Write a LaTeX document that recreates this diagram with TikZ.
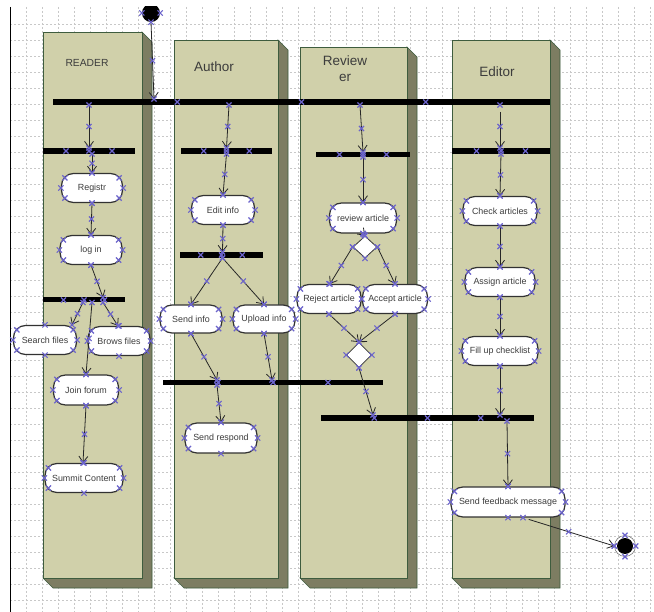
\documentclass[tikz,border=0pt]{standalone}
\usepackage{fontspec}
\setmainfont{Liberation Sans}
\usetikzlibrary{arrows.meta,shapes.misc,shapes.geometric,calc}
\definecolor{lanefront}{RGB}{208,208,170}
\definecolor{laneside}{RGB}{125,125,98}
\definecolor{laneedge}{RGB}{62,92,62}
\definecolor{gridc}{RGB}{200,200,200}
\definecolor{xmark}{RGB}{108,100,204}
\definecolor{actedge}{RGB}{50,50,50}
\definecolor{txt}{RGB}{60,60,60}
\tikzset{
 act/.style={draw=actedge, fill=white, rounded corners=12pt, line width=1.2pt, minimum height=29pt, inner sep=1pt, font=\fontsize{8.9}{10}\selectfont, text=txt},
 fbar/.style={fill=black, draw=none, minimum height=6pt, inner sep=0pt, outer sep=0pt},
 dec/.style={diamond, draw=actedge, fill=white, line width=0.8pt, inner sep=0pt, minimum width=24pt, minimum height=24pt},
 conn/.style={draw=black!85, line width=0.8pt, -{Straight Barb[length=6pt,width=9pt]}},
 xmk/.pic={\draw[xmark, line width=1.1pt] (-2.6pt,-2.6pt) -- (2.6pt,2.6pt) (-2.6pt,2.6pt) -- (2.6pt,-2.6pt);},
 lanetitle/.style={font=\fontsize{13.5}{16}\selectfont, text=txt},
 gridline/.style={gridc, dash pattern=on 2pt off 2pt, line width=0.5pt},
}
\newcommand{\drawlane}[3]{%
 \filldraw[fill=laneside, draw=laneedge, line width=0.6pt] (#2,#3) -- (#2+10,#3+10) -- (#2+10,588) -- (#1+10,588) -- (#1,578) -- (#2,578) -- cycle;
 \filldraw[fill=lanefront, draw=laneedge, line width=0.8pt] (#1,#3) rectangle (#2,578);
}
\newcommand{\actmarks}[1]{%
 \foreach \a in {north,south,east,west} {\pic at (#1.\a) {xmk};}
 \pic at ([xshift=-4pt,yshift=-5pt]#1.north east) {xmk};
 \pic at ([xshift=4pt,yshift=-5pt]#1.north west) {xmk};
 \pic at ([xshift=-4pt,yshift=5pt]#1.south east) {xmk};
 \pic at ([xshift=4pt,yshift=5pt]#1.south west) {xmk};
}
\newcommand{\barmarks}[1]{%
 \pic at (#1.center) {xmk};
 \pic at ($(#1.west)!0.25!(#1.east)$) {xmk};
 \pic at ($(#1.west)!0.75!(#1.east)$) {xmk};
}
\newcommand{\cnx}[3][]{%
 \draw[conn,#1] (#2) -- (#3);
 \pic at (#2) {xmk};
 \pic at ($(#2)!0.5!(#3)$) {xmk};
 \pic at (#3) {xmk};
}
\begin{document}
\begin{tikzpicture}[x=1pt,y=-1pt]
\useasboundingbox (0,0) rectangle (654,612);
\fill[white] (0,0) rectangle (654,612);
\begin{scope}
\clip (0,7) rectangle (654,612);
\foreach \gx in {26,42,...,650} {\draw[gridline] (\gx,7) -- (\gx,612);}
\foreach \gy in {24,40,...,610} {\draw[gridline] (10,\gy) -- (654,\gy);}
\draw[black, line width=1pt] (10.5,7) -- (10.5,612);

% lanes
\drawlane{43}{142}{32}
\drawlane{174}{278}{40}
\drawlane{300}{407}{47}
\drawlane{452}{550}{40}

\node[font=\fontsize{10.3}{12}\selectfont, text=txt] (tReader) at (87,63) {READER};
\node[lanetitle] (tAuthor) at (214,67) {Author};
\node[lanetitle, align=center] (tRev) at (345,69) {Review\\er};
\node[lanetitle] (tEditor) at (497,72) {Editor};

% start / end
\node[circle, fill=black, minimum size=18pt, inner sep=0pt] (start) at (151,13) {};
\node[circle, draw=black!60, fill=white, minimum size=21pt, inner sep=0pt, line width=0.5pt] (endn) at (625,546) {};
\node[circle, fill=black, minimum size=16pt, inner sep=0pt] (endin) at (625,546) {};

% bars
\node[fbar, minimum width=497pt] (topbar) at (301.5,102) {};
\node[fbar, minimum width=92pt] (rbar1) at (89,151) {};
\node[fbar, minimum width=91pt] (abar1) at (226.5,151) {};
\node[fbar, minimum width=94pt, minimum height=5pt] (vbar1) at (363,154.5) {};
\node[fbar, minimum width=98pt] (ebar1) at (501,151) {};
\node[fbar, minimum width=82pt, minimum height=5pt] (rbar2) at (84,300) {};
\node[fbar, minimum width=83pt] (abar2) at (221.5,255) {};
\node[fbar, minimum width=220pt, minimum height=5pt] (abar3) at (273,382.5) {};
\node[fbar, minimum width=213pt] (joinbar) at (427.5,418) {};

% activities
\node[act, minimum width=61pt] (registr) at (92,188) {Registr};
\node[act, minimum width=62pt] (login) at (91,250) {log in};
\node[act, minimum width=63pt] (search) at (45,340) {Search files};
\node[act, minimum width=62pt] (brows) at (119,341) {Brows files};
\node[act, minimum width=65pt, minimum height=30pt] (join) at (86,390) {Join forum};
\node[act, minimum width=78pt] (summit) at (84,478) {Summit Content};
\node[act, minimum width=63pt] (editinfo) at (223,210) {Edit info};
\node[act, minimum width=62pt, minimum height=28pt] (sendinfo) at (191,319) {Send info};
\node[act, minimum width=62pt, minimum height=28pt] (upload) at (264,319) {Upload info};
\node[act, minimum width=72pt, minimum height=30pt] (sendresp) at (221,438) {Send respond};
\node[act, minimum width=67pt, minimum height=30pt] (review) at (363,218) {review article};
\node[act, minimum width=64pt] (reject) at (329,299) {Reject article};
\node[act, minimum width=65pt] (accept) at (395,299) {Accept article};
\node[act, minimum width=74pt] (check) at (500,211) {Check articles};
\node[act, minimum width=70pt] (assign) at (500,282) {Assign article};
\node[act, minimum width=76pt] (fill) at (500,351) {Fill up checklist};
\node[act, minimum width=114pt, minimum height=30pt] (feedback) at (508,502) {Send feedback message};

\node[dec, minimum height=22pt] (dec1) at (365,247) {};
\node[dec, minimum width=25pt, minimum height=25pt] (dec2) at (359,355) {};

% connectors
\cnx{start.south}{[xshift=-147.5pt]topbar.north}
\cnx{[xshift=-212.5pt]topbar.south}{rbar1.north}
\cnx{[xshift=-72.5pt]topbar.south}{abar1.north}
\cnx{[xshift=58.5pt]topbar.south}{vbar1.north}
\cnx[shorten <=7pt]{[xshift=198.5pt]topbar.south}{[xshift=-1pt]ebar1.north}
\cnx{[xshift=3pt]rbar1.south}{registr.north}
\cnx{registr.south}{login.north}
\cnx{login.south}{[xshift=19pt]rbar2.north}
\cnx{[xshift=-1pt]rbar2.south}{[xshift=27pt]search.north}
\cnx{[xshift=19pt]rbar2.south}{[xshift=-1pt]brows.north}
\cnx{[xshift=8pt]rbar2.south}{join.north}
\cnx{join.south}{[xshift=-1pt]summit.north}
\cnx{abar1.south}{editinfo.north}
\cnx{editinfo.south}{[xshift=1pt]abar2.north}
\cnx{[xshift=1pt]abar2.south}{sendinfo.north}
\cnx{[xshift=1pt]abar2.south}{upload.north}
\cnx{sendinfo.south}{[xshift=-56pt]abar3.north}
\cnx{upload.south}{[xshift=-1pt]abar3.north}
\cnx{[xshift=-56pt]abar3.south}{sendresp.north}
\cnx{vbar1.south}{review.north}
\cnx{review.south}{dec1.north}
\cnx{dec1.west}{[xshift=1pt]reject.north}
\cnx{dec1.east}{accept.north}
\cnx{reject.south}{dec2.north}
\cnx{accept.south}{dec2.north}
\cnx{dec2.south}{[xshift=-54.5pt]joinbar.north}
\cnx{ebar1.south}{check.north}
\cnx{check.south}{assign.north}
\cnx{assign.south}{fill.north}
\cnx{fill.south}{[xshift=72.5pt]joinbar.north}
\cnx{[xshift=79.5pt]joinbar.south}{feedback.north}
\cnx[shorten <=6pt]{[xshift=15pt]feedback.south}{endn.west}

% selection marks
\foreach \n in {registr,login,search,brows,join,summit,editinfo,sendinfo,upload,sendresp,review,reject,accept,check,assign,fill,feedback} {\actmarks{\n}}
\foreach \n in {topbar,rbar1,abar1,vbar1,ebar1,rbar2,abar2,abar3,joinbar} {\barmarks{\n}}
\foreach \n in {dec1,dec2,endn} {\foreach \a in {north,south,east,west} {\pic at (\n.\a) {xmk};}}
\pic at (start.west) {xmk};
\pic at (start.east) {xmk};
\end{scope}
\end{tikzpicture}
\end{document}
